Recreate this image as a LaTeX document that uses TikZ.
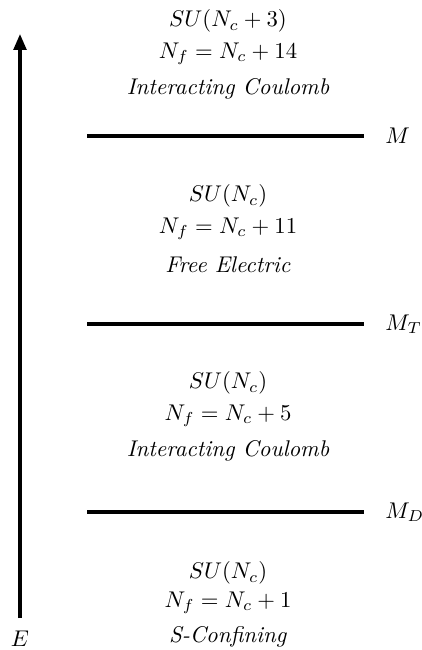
\documentclass[tikz,border=0pt]{standalone}
\usetikzlibrary{arrows.meta}
\begin{document}
\begin{tikzpicture}[x=0.44pt,y=-0.44pt,
  level/.style={line width=1.35pt},
  lbl/.style={inner sep=0pt,anchor=center},
  axis/.style={line width=1.35pt,-{Triangle[length=7pt,width=5.6pt]}}]
\useasboundingbox (0,0) rectangle (421,650);
\coordinate (abot) at (20,618);
\coordinate (atop) at (20,34);
\draw[axis] (abot) -- (atop);
\node[lbl] (E) at (20,639) {$E$};
% levels
\coordinate (l1a) at (87,136); \coordinate (l1b) at (364,136);
\coordinate (l2a) at (87,324); \coordinate (l2b) at (364,324);
\coordinate (l3a) at (87,512); \coordinate (l3b) at (364,512);
\draw[level] (l1a) -- (l1b);
\draw[level] (l2a) -- (l2b);
\draw[level] (l3a) -- (l3b);
\node[lbl,anchor=west] (M) at (385,136) {$M$};
\node[lbl,anchor=west] (MT) at (385,324) {$M_T$};
\node[lbl,anchor=west] (MD) at (385,512) {$M_D$};
% blocks
\node[lbl] (a1) at (228,21) {$SU(N_c+3)$};
\node[lbl] (a2) at (228,54) {$N_f=N_c+14$};
\node[lbl] (a3) at (228,89) {\textit{Interacting Coulomb}};
\node[lbl] (b1) at (228,196) {$SU(N_c)$};
\node[lbl] (b2) at (228,229) {$N_f=N_c+11$};
\node[lbl] (b3) at (228,265) {\textit{Free Electric}};
\node[lbl] (c1) at (228,383) {$SU(N_c)$};
\node[lbl] (c2) at (228,416) {$N_f=N_c+5$};
\node[lbl] (c3) at (228,451) {\textit{Interacting Coulomb}};
\node[lbl] (d1) at (228,573) {$SU(N_c)$};
\node[lbl] (d2) at (228,603) {$N_f=N_c+1$};
\node[lbl] (d3) at (228,637) {\textit{S-Confining}};
\end{tikzpicture}
\end{document}
